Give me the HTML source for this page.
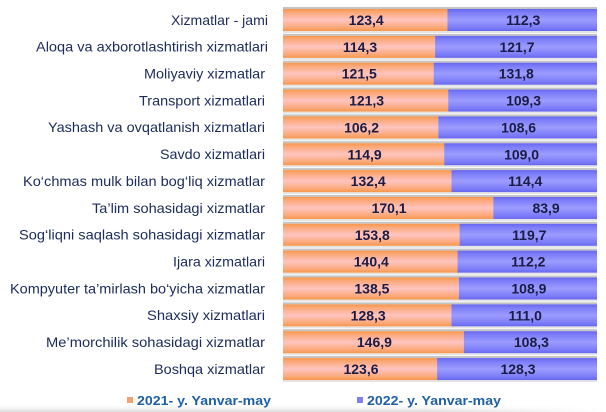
<!DOCTYPE html>
<html><head><meta charset="utf-8"><style>
html,body{margin:0;padding:0;background:#fff;}
svg{display:block;}
</style></head><body>
<svg width="606" height="412" viewBox="0 0 606 412" xmlns="http://www.w3.org/2000/svg">
<defs>
<linearGradient id="og" x1="0" y1="0" x2="0" y2="1">
<stop offset="0" stop-color="#f7964a"/>
<stop offset="0.15" stop-color="#fba878"/>
<stop offset="0.5" stop-color="#ffc4c0"/>
<stop offset="0.85" stop-color="#fba878"/>
<stop offset="1" stop-color="#f7964a"/>
</linearGradient>
<linearGradient id="bg" x1="0" y1="0" x2="0" y2="1">
<stop offset="0" stop-color="#6666ee"/>
<stop offset="0.15" stop-color="#7c7cf8"/>
<stop offset="0.5" stop-color="#9c9cff"/>
<stop offset="0.85" stop-color="#7c7cf8"/>
<stop offset="1" stop-color="#6666ee"/>
</linearGradient>
<linearGradient id="sh" x1="0" y1="0" x2="0" y2="1">
<stop offset="0" stop-color="#ffffff" stop-opacity="0"/>
<stop offset="1" stop-color="#d0d0d0" stop-opacity="0.8"/>
</linearGradient>
<linearGradient id="shx" x1="0" y1="0" x2="1" y2="0">
<stop offset="0" stop-color="#fff" stop-opacity="0"/>
<stop offset="0.7" stop-color="#fff" stop-opacity="0"/>
<stop offset="1" stop-color="#fff" stop-opacity="1"/>
</linearGradient>
</defs>
<rect x="0" y="404" width="606" height="8" fill="url(#sh)"/>
<rect x="0" y="404" width="606" height="8" fill="url(#shx)"/>

<g fill="#c4c4c4">
<rect x="283" y="7" width="314" height="2"/>
<rect x="283" y="33.85" width="314" height="2"/>
<rect x="283" y="60.7" width="314" height="2"/>
<rect x="283" y="87.55" width="314" height="2"/>
<rect x="283" y="114.4" width="314" height="2"/>
<rect x="283" y="141.25" width="314" height="2"/>
<rect x="283" y="168.1" width="314" height="2"/>
<rect x="283" y="194.95" width="314" height="2"/>
<rect x="283" y="221.8" width="314" height="2"/>
<rect x="283" y="248.65" width="314" height="2"/>
<rect x="283" y="275.5" width="314" height="2"/>
<rect x="283" y="302.35" width="314" height="2"/>
<rect x="283" y="329.2" width="314" height="2"/>
<rect x="283" y="356.05" width="314" height="2"/>
</g>
<g fill="#e4e4e4">
<rect x="283" y="31" width="314" height="2"/>
<rect x="283" y="57.85" width="314" height="2"/>
<rect x="283" y="84.7" width="314" height="2"/>
<rect x="283" y="111.55" width="314" height="2"/>
<rect x="283" y="138.4" width="314" height="2"/>
<rect x="283" y="165.25" width="314" height="2"/>
<rect x="283" y="192.1" width="314" height="2"/>
<rect x="283" y="218.95" width="314" height="2"/>
<rect x="283" y="245.8" width="314" height="2"/>
<rect x="283" y="272.65" width="314" height="2"/>
<rect x="283" y="299.5" width="314" height="2"/>
<rect x="283" y="326.35" width="314" height="2"/>
<rect x="283" y="353.2" width="314" height="2"/>
<rect x="283" y="380.05" width="314" height="2"/>
</g>

<g fill="url(#og)">
<rect x="283" y="9" width="164.40" height="22"/>
<rect x="283" y="35.85" width="152.08" height="22"/>
<rect x="283" y="62.7" width="150.62" height="22"/>
<rect x="283" y="89.55" width="165.17" height="22"/>
<rect x="283" y="116.4" width="155.25" height="22"/>
<rect x="283" y="143.25" width="161.14" height="22"/>
<rect x="283" y="170.1" width="168.45" height="22"/>
<rect x="283" y="196.95" width="210.28" height="22"/>
<rect x="283" y="223.8" width="176.57" height="22"/>
<rect x="283" y="250.65" width="174.53" height="22"/>
<rect x="283" y="277.5" width="175.78" height="22"/>
<rect x="283" y="304.35" width="168.35" height="22"/>
<rect x="283" y="331.2" width="180.75" height="22"/>
<rect x="283" y="358.05" width="154.07" height="22"/>
</g>
<g fill="url(#bg)">
<rect x="447.40" y="9" width="149.60" height="22"/>
<rect x="435.08" y="35.85" width="161.92" height="22"/>
<rect x="433.62" y="62.7" width="163.38" height="22"/>
<rect x="448.17" y="89.55" width="148.83" height="22"/>
<rect x="438.25" y="116.4" width="158.75" height="22"/>
<rect x="444.14" y="143.25" width="152.86" height="22"/>
<rect x="451.45" y="170.1" width="145.55" height="22"/>
<rect x="493.28" y="196.95" width="103.72" height="22"/>
<rect x="459.57" y="223.8" width="137.43" height="22"/>
<rect x="457.53" y="250.65" width="139.47" height="22"/>
<rect x="458.78" y="277.5" width="138.22" height="22"/>
<rect x="451.35" y="304.35" width="145.65" height="22"/>
<rect x="463.75" y="331.2" width="133.25" height="22"/>
<rect x="437.07" y="358.05" width="159.93" height="22"/>
</g>

<g font-family="Liberation Sans, Arial, sans-serif" font-size="14" fill="#1c2b5c" text-anchor="end">
<text x="268" y="24.8" textLength="97" lengthAdjust="spacingAndGlyphs">Xizmatlar - jami</text>
<text x="268" y="51.65" textLength="232" lengthAdjust="spacingAndGlyphs">Aloqa va axborotlashtirish xizmatlari</text>
<text x="265" y="78.5" textLength="121" lengthAdjust="spacingAndGlyphs">Moliyaviy xizmatlar</text>
<text x="265" y="105.35" textLength="126" lengthAdjust="spacingAndGlyphs">Transport xizmatlari</text>
<text x="265" y="132.2" textLength="217" lengthAdjust="spacingAndGlyphs">Yashash va ovqatlanish xizmatlari</text>
<text x="265" y="159.05" textLength="105" lengthAdjust="spacingAndGlyphs">Savdo xizmatlari</text>
<text x="265" y="185.9" textLength="242" lengthAdjust="spacingAndGlyphs">Ko‘chmas mulk bilan bog‘liq xizmatlar</text>
<text x="265" y="212.75" textLength="173" lengthAdjust="spacingAndGlyphs">Ta’lim sohasidagi xizmatlar</text>
<text x="265" y="239.6" textLength="246" lengthAdjust="spacingAndGlyphs">Sog‘liqni saqlash sohasidagi xizmatlar</text>
<text x="265" y="266.45" textLength="92" lengthAdjust="spacingAndGlyphs">Ijara xizmatlari</text>
<text x="265" y="293.3" textLength="255" lengthAdjust="spacingAndGlyphs">Kompyuter ta’mirlash bo‘yicha xizmatlar</text>
<text x="265" y="320.15" textLength="118" lengthAdjust="spacingAndGlyphs">Shaxsiy xizmatlari</text>
<text x="265" y="347" textLength="219" lengthAdjust="spacingAndGlyphs">Me’morchilik sohasidagi xizmatlar</text>
<text x="265" y="373.85" textLength="111" lengthAdjust="spacingAndGlyphs">Boshqa xizmatlar</text>
</g>

<g font-family="Liberation Sans, Arial, sans-serif" font-size="14" font-weight="bold" fill="#1a1c45" text-anchor="middle">
<text x="366.2" y="25">123,4</text><text x="523.2" y="25">112,3</text>
<text x="360.0" y="51.85">114,3</text><text x="517.0" y="51.85">121,7</text>
<text x="359.3" y="78.7">121,5</text><text x="516.3" y="78.7">131,8</text>
<text x="366.6" y="105.55">121,3</text><text x="523.6" y="105.55">109,3</text>
<text x="361.6" y="132.4">106,2</text><text x="518.6" y="132.4">108,6</text>
<text x="364.6" y="159.25">114,9</text><text x="521.6" y="159.25">109,0</text>
<text x="368.2" y="186.1">132,4</text><text x="525.2" y="186.1">114,4</text>
<text x="389.1" y="212.95">170,1</text><text x="546.1" y="212.95">83,9</text>
<text x="372.3" y="239.8">153,8</text><text x="529.3" y="239.8">119,7</text>
<text x="371.3" y="266.65">140,4</text><text x="528.3" y="266.65">112,2</text>
<text x="371.9" y="293.5">138,5</text><text x="528.9" y="293.5">108,9</text>
<text x="368.2" y="320.35">128,3</text><text x="525.2" y="320.35">111,0</text>
<text x="374.4" y="347.2">146,9</text><text x="531.4" y="347.2">108,3</text>
<text x="361.0" y="374.05">123,6</text><text x="518.0" y="374.05">128,3</text>
</g>

<rect x="127" y="397" width="6" height="6" fill="#f8a070"/>
<rect x="357" y="397" width="6" height="6" fill="#8080f0"/>
<g font-family="Liberation Sans, Arial, sans-serif" font-size="13" font-weight="bold" fill="#1f5fa8">
<text x="137" y="405" textLength="134" lengthAdjust="spacingAndGlyphs">2021- y. Yanvar-may</text>
<text x="367" y="405" textLength="134" lengthAdjust="spacingAndGlyphs">2022- y. Yanvar-may</text>
</g>
</svg>
</body></html>
